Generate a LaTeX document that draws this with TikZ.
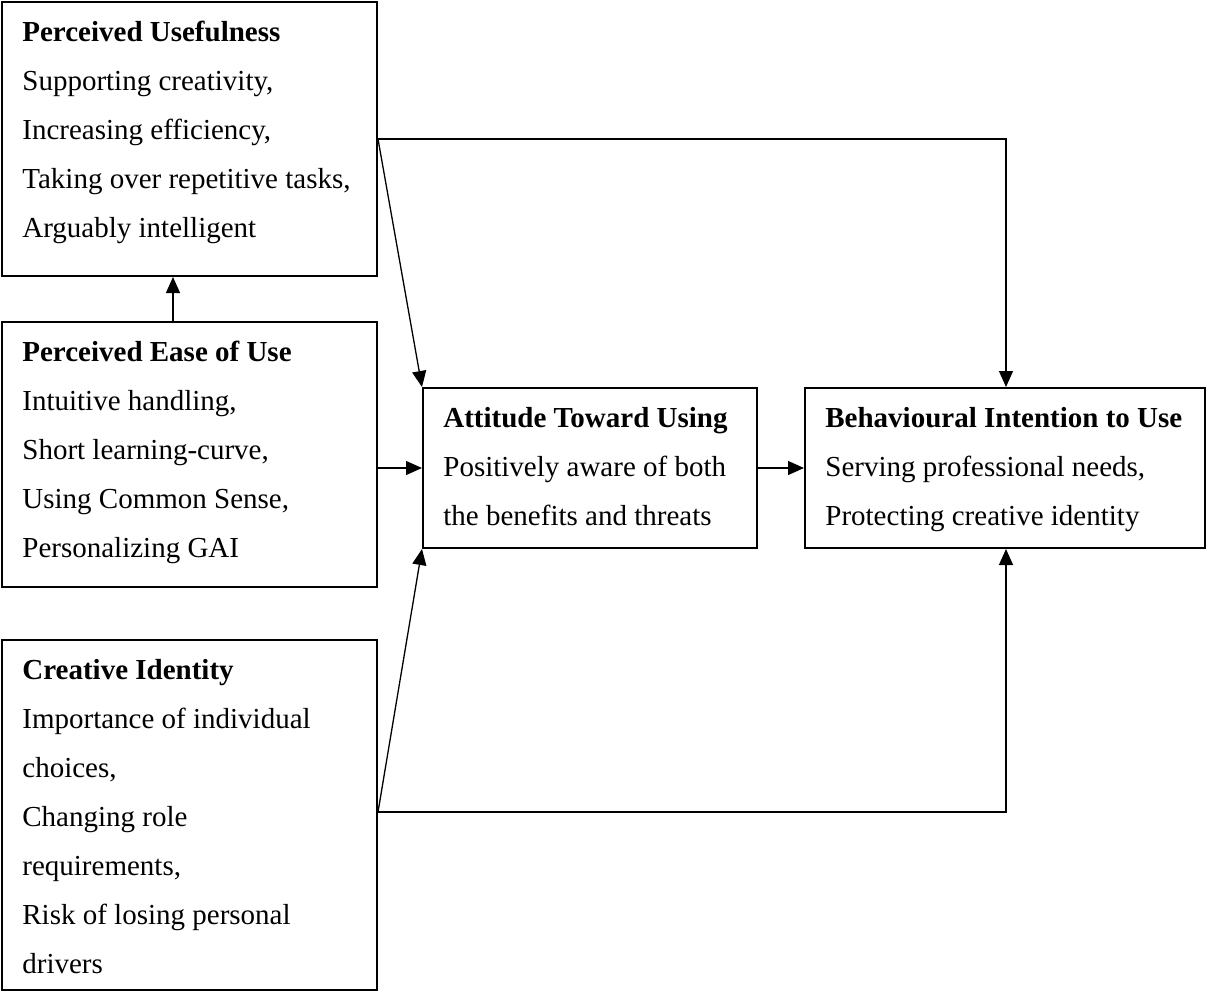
\documentclass[tikz,border=0pt]{standalone}
\usepackage{fontspec}
\setmainfont{Liberation Serif}
\usetikzlibrary{arrows.meta,fit}
\newcommand{\boxtext}[1]{\parbox[t]{180pt}{\raggedright\fontsize{14.5}{24.5}\selectfont #1}}
\tikzset{
  box/.style={draw, line width=1pt, inner sep=0pt},
  txt/.style={anchor=base west, inner sep=0pt},
  arr/.style={line width=0.65pt, -{Triangle[length=8pt,width=7pt]}},
  ln/.style={line width=0.65pt}
}
\begin{document}
\begin{tikzpicture}[x=0.5pt,y=-0.5pt]
\useasboundingbox (0,0) rectangle (1206,996);
% boxes
\node[box, fit={(2,2) (377,276)}] (pu) {};
\node[box, fit={(2,322) (377,587)}] (peou) {};
\node[box, fit={(2,640) (377,990)}] (ci) {};
\node[box, fit={(423,388) (757,548)}] (atu) {};
\node[box, fit={(805,388) (1205,548)}] (biu) {};
% texts
\node[txt] (pu-t) at (22,41) {\boxtext{\textbf{Perceived Usefulness}\\Supporting creativity,\\Increasing efficiency,\\Taking over repetitive tasks,\\Arguably intelligent}};
\node[txt] (peou-t) at (22,361) {\boxtext{\textbf{Perceived Ease of Use}\\Intuitive handling,\\Short learning-curve,\\Using Common Sense,\\Personalizing GAI}};
\node[txt] (ci-t) at (22,679) {\boxtext{\textbf{Creative Identity}\\Importance of individual\\choices,\\Changing role\\requirements,\\Risk of losing personal\\drivers}};
\node[txt] (atu-t) at (443,427) {\boxtext{\textbf{Attitude Toward Using}\\Positively aware of both\\the benefits and threats}};
\node[txt] (biu-t) at (825,427) {\boxtext{\textbf{Behavioural Intention to Use}\\Serving professional needs,\\Protecting creative identity}};
% helper coordinates
\coordinate (c1) at (173,0);
\coordinate (k1) at (1006,139);
\coordinate (k2) at (1006,812);
% connectors
\draw[arr] (c1 |- peou.north) -- (c1 |- pu.south);
\draw[arr] (pu.east) -- (k1) -- (k1 |- biu.north);
\draw[arr] (pu.east) -- (atu.north west);
\draw[arr] (atu.west -| peou.east) -- (atu.west);
\draw[arr] (k2 -| ci.east) -- (atu.south west);
\draw[arr] (k2 -| ci.east) -- (k2) -- (k2 |- biu.south);
\draw[arr] (atu.east) -- (biu.west);
\end{tikzpicture}
\end{document}
